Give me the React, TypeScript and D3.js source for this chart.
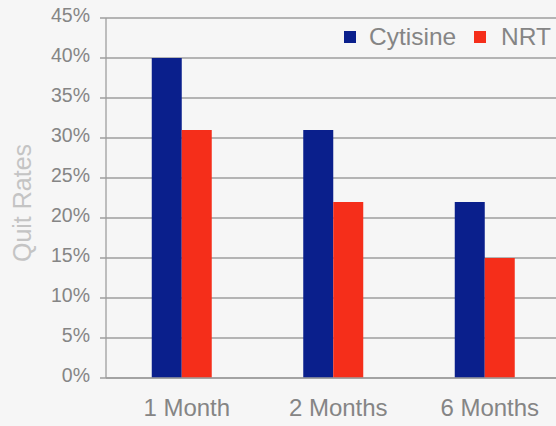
import React from "react";
import * as d3 from "d3";

const categories = ["1 Month", "2 Months", "6 Months"];
const seriesNames = ["Cytisine", "NRT"];
const cytisine = [40, 31, 22];
const nrt = [31, 22, 15];
const yTicks = [0, 5, 10, 15, 20, 25, 30, 35, 40, 45];
const colors = ["#0a1f8c", "#f52e1a"];

const W = 556;
const H = 426;
const FONT = "'Liberation Sans', Arial, Helvetica, sans-serif";

export default function App() {
  const y = d3.scaleLinear().domain([0, 45]).range([378, 18]);
  const x0 = d3.scaleBand<string>().domain(categories).range([106, 560.5]).padding(0);
  const groupW = x0.bandwidth() * 0.396;
  const x1 = d3.scaleBand<string>().domain(seriesNames).range([0, groupW]).padding(0);
  const values = [cytisine, nrt];

  return (
    <svg width={W} height={H} style={{ position: "absolute", left: 0, top: 0, background: "#f6f6f6" }}>
      <rect x={0} y={0} width={W} height={H} fill="#f6f6f6" />
      {yTicks.map((t) => (
        <g key={t}>
          <line x1={100} x2={W} y1={y(t)} y2={y(t)} stroke="#9e9e9e" strokeWidth={1.3} />
          <text
            x={90}
            y={y(t)}
            dy="-1"
            textAnchor="end"
            dominantBaseline="middle"
            fontFamily={FONT}
            fontSize={19.5}
            fill="#858585"
          >
            {t}%
          </text>
        </g>
      ))}
      <line x1={106} x2={106} y1={y(45)} y2={y(0)} stroke="#9e9e9e" strokeWidth={1.3} />
      {categories.map((c, i) => {
        const gx = (x0(c) as number) + (x0.bandwidth() - groupW) / 2;
        return (
          <g key={c}>
            {seriesNames.map((s, k) => (
              <rect
                key={s}
                x={gx + (x1(s) as number)}
                y={y(values[k][i])}
                width={x1.bandwidth()}
                height={y(0) - y(values[k][i])}
                fill={colors[k]}
              />
            ))}
            <text
              x={(x0(c) as number) + x0.bandwidth() / 2 + 5}
              y={416}
              textAnchor="middle"
              fontFamily={FONT}
              fontSize={24}
              fill="#858585"
            >
              {c}
            </text>
          </g>
        );
      })}
      <line x1={106} x2={W} y1={y(0)} y2={y(0)} stroke="#9e9e9e" strokeWidth={1.3} />
      {[
        { name: seriesNames[0], sx: 344, tx: 369 },
        { name: seriesNames[1], sx: 474, tx: 501 },
      ].map((l, k) => (
        <g key={l.name}>
          <rect x={l.sx} y={31} width={12} height={12} fill={colors[k]} />
          <text x={l.tx} y={45} fontFamily={FONT} fontSize={24.5} fill="#858585">
            {l.name}
          </text>
        </g>
      ))}
      <text
        transform={`translate(31,203) rotate(-90)`}
        textAnchor="middle"
        fontFamily={FONT}
        fontSize={25}
        fill="#c4c4c4"
        style={{ fontWeight: 300 }}
      >
        Quit Rates
      </text>
    </svg>
  );
}
